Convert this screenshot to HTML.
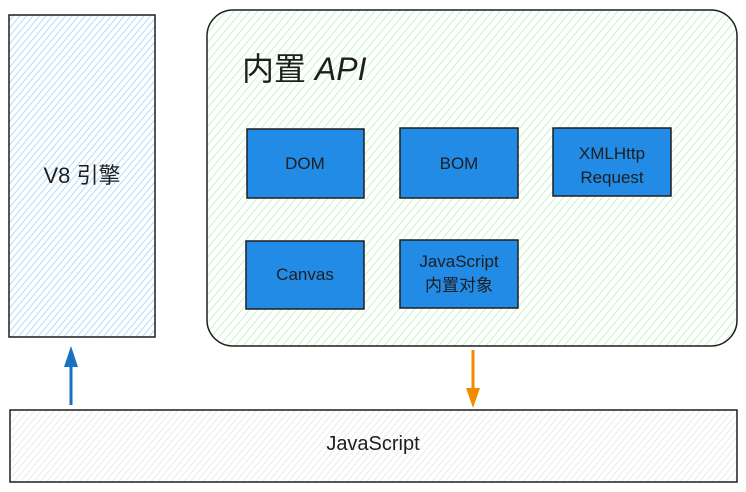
<!DOCTYPE html>
<html><head><meta charset="utf-8"><style>
html,body{margin:0;padding:0;background:#fff;}
svg{display:block;}
text{font-family:"Liberation Sans","Noto Sans CJK SC",sans-serif;fill:#1e1e1e;}
</style></head><body>
<svg width="746" height="492" viewBox="0 0 746 492" xmlns="http://www.w3.org/2000/svg">
<defs>
<pattern id="hb" width="5" height="5" patternUnits="userSpaceOnUse" patternTransform="rotate(40)">
<rect width="5" height="5" fill="#fff"/><line x1="0" y1="0" x2="0" y2="5" stroke="#a5d8ff" stroke-width="1.8"/></pattern>
<pattern id="hg" width="6" height="6" patternUnits="userSpaceOnUse" patternTransform="rotate(40)">
<rect width="6" height="6" fill="#fff"/><line x1="0" y1="0" x2="0" y2="6" stroke="#b2f2bb" stroke-width="1.5"/></pattern>
<pattern id="hgr" width="5" height="5" patternUnits="userSpaceOnUse" patternTransform="rotate(40)">
<rect width="5" height="5" fill="#fff"/><line x1="0" y1="0" x2="0" y2="5" stroke="#e0e0e0" stroke-width="1.3"/></pattern>
</defs>
<rect x="9" y="15" width="146" height="322" fill="url(#hb)" stroke="#1e1e1e" stroke-width="1.5"/>
<text x="82" y="183" font-size="22" text-anchor="middle">V8 引擎</text>
<rect x="207" y="10" width="530" height="336" rx="26" fill="url(#hg)" stroke="#1e1e1e" stroke-width="1.5"/>
<text x="242" y="80" font-size="32">内置 <tspan font-style="italic">API</tspan></text>
<g stroke="#1e1e1e" stroke-width="1.5" fill="#228be6">
<rect x="247" y="129" width="117" height="69"/>
<rect x="400" y="128" width="118" height="70"/>
<rect x="553" y="128" width="118" height="68"/>
<rect x="246" y="241" width="118" height="68"/>
<rect x="400" y="240" width="118" height="68"/>
</g>
<g font-size="17" text-anchor="middle">
<text x="305" y="169">DOM</text>
<text x="459" y="169">BOM</text>
<text x="612" y="159">XMLHttp</text>
<text x="612" y="183">Request</text>
<text x="305" y="280">Canvas</text>
<text x="459" y="267">JavaScript</text>
<text x="459" y="291">内置对象</text>
</g>
<rect x="10" y="410" width="727" height="72" fill="url(#hgr)" stroke="#1e1e1e" stroke-width="1.5"/>
<text x="373" y="450" font-size="20" text-anchor="middle">JavaScript</text>
<line x1="71" y1="405" x2="71" y2="360" stroke="#1971c2" stroke-width="3"/>
<polygon points="71,346 64,367 78,367" fill="#1971c2"/>
<line x1="473" y1="350" x2="473" y2="395" stroke="#f08c00" stroke-width="3"/>
<polygon points="473,408 466,388 480,388" fill="#f08c00"/>
</svg>
</body></html>
